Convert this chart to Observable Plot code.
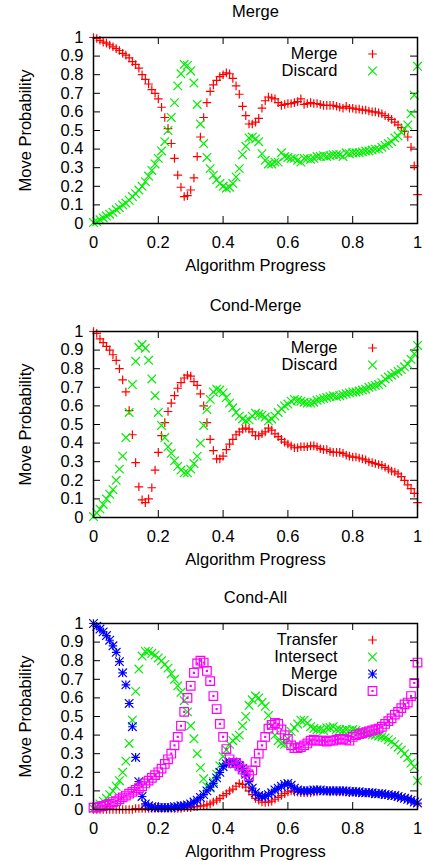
<!DOCTYPE html>
<html><head><meta charset="utf-8">
<script src="https://cdn.jsdelivr.net/npm/d3@7"></script>
<script src="https://cdn.jsdelivr.net/npm/@observablehq/plot@0.6"></script>
<style>
body{margin:0;background:#fff;}
#chart{width:424px;}
#chart svg{display:block;overflow:visible;}
</style></head><body><div id="chart"></div>
<script>
// x grid (algorithm progress)
const progress = [0,0.01,0.02,0.03,0.04,0.05,0.06,0.07,0.08,0.09,
 0.1,0.11,0.12,0.13,0.14,0.15,0.16,0.17,0.18,0.19,
 0.2,0.21,0.22,0.23,0.24,0.25,0.26,0.27,0.28,0.29,
 0.3,0.31,0.32,0.33,0.34,0.35,0.36,0.37,0.38,0.39,
 0.4,0.41,0.42,0.43,0.44,0.45,0.46,0.47,0.48,0.49,
 0.5,0.51,0.52,0.53,0.54,0.55,0.56,0.57,0.58,0.59,
 0.6,0.61,0.62,0.63,0.64,0.65,0.66,0.67,0.68,0.69,
 0.7,0.71,0.72,0.73,0.74,0.75,0.76,0.77,0.78,0.79,
 0.8,0.81,0.82,0.83,0.84,0.85,0.86,0.87,0.88,0.89,
 0.9,0.91,0.92,0.93,0.94,0.95,0.96,0.97,0.98,0.99,
 1];

const xTicks = [0,0.2,0.4,0.6,0.8,1];
const yTicks = [0,0.1,0.2,0.3,0.4,0.5,0.6,0.7,0.8,0.9,1];

// Panel 1: Merge
const p1Merge = [1.0,0.995,0.985,0.975,0.97,0.96,0.95,0.94,0.93,0.915,
 0.905,0.89,0.87,0.855,0.835,0.8,0.775,0.75,0.72,0.7,
 0.67,0.625,0.57,0.51,0.43,0.35,0.26,0.195,0.145,0.15,
 0.18,0.245,0.36,0.465,0.57,0.65,0.71,0.745,0.77,0.79,
 0.80,0.81,0.805,0.78,0.74,0.695,0.63,0.58,0.535,0.535,
 0.545,0.565,0.62,0.66,0.68,0.675,0.67,0.65,0.635,0.64,
 0.645,0.645,0.65,0.655,0.67,0.64,0.645,0.65,0.645,0.645,
 0.64,0.635,0.635,0.635,0.635,0.63,0.625,0.62,0.63,0.62,
 0.62,0.615,0.615,0.61,0.61,0.605,0.6,0.6,0.595,0.59,
 0.58,0.57,0.56,0.545,0.53,0.515,0.495,0.465,0.41,0.31,
 0.155];
const p1Discard = [0.005,0.01,0.02,0.03,0.04,0.05,0.06,0.075,0.085,0.1,
 0.11,0.125,0.145,0.16,0.18,0.2,0.225,0.255,0.285,0.32,
 0.35,0.39,0.44,0.5,0.57,0.65,0.74,0.805,0.855,0.85,
 0.82,0.755,0.64,0.535,0.43,0.355,0.295,0.26,0.235,0.215,
 0.2,0.19,0.195,0.215,0.25,0.295,0.37,0.415,0.46,0.465,
 0.455,0.44,0.375,0.34,0.32,0.32,0.33,0.33,0.38,0.36,
 0.355,0.35,0.35,0.34,0.33,0.35,0.35,0.345,0.35,0.36,
 0.36,0.365,0.36,0.365,0.37,0.37,0.37,0.36,0.38,0.375,
 0.38,0.38,0.38,0.385,0.39,0.39,0.395,0.4,0.4,0.41,
 0.42,0.43,0.44,0.46,0.47,0.49,0.51,0.53,0.59,0.69,
 0.845];

// Panel 2: Cond-Merge
const p2Merge = [1.0,0.99,0.96,0.94,0.92,0.9,0.875,0.845,0.8,0.74,
 0.675,0.575,0.445,0.295,0.165,0.095,0.08,0.1,0.16,0.255,
 0.35,0.44,0.51,0.57,0.615,0.655,0.695,0.725,0.75,0.765,
 0.76,0.73,0.71,0.665,0.6,0.51,0.42,0.36,0.315,0.315,
 0.33,0.365,0.395,0.42,0.445,0.46,0.475,0.48,0.475,0.46,
 0.44,0.44,0.45,0.46,0.48,0.47,0.45,0.435,0.42,0.405,
 0.395,0.385,0.375,0.375,0.38,0.38,0.38,0.385,0.385,0.38,
 0.37,0.365,0.365,0.355,0.35,0.35,0.35,0.345,0.335,0.33,
 0.325,0.325,0.32,0.315,0.31,0.3,0.295,0.29,0.285,0.28,
 0.27,0.26,0.25,0.245,0.235,0.22,0.2,0.175,0.155,0.13,
 0.08];
const p2Discard = [0.005,0.025,0.045,0.07,0.1,0.125,0.15,0.2,0.26,0.33,
 0.43,0.565,0.715,0.84,0.915,0.93,0.91,0.845,0.745,0.655,
 0.565,0.495,0.43,0.38,0.345,0.305,0.275,0.255,0.24,0.24,
 0.26,0.29,0.33,0.4,0.495,0.58,0.635,0.675,0.69,0.685,
 0.67,0.645,0.615,0.59,0.565,0.545,0.53,0.52,0.525,0.545,
 0.56,0.555,0.55,0.54,0.52,0.53,0.545,0.565,0.585,0.6,
 0.61,0.625,0.635,0.63,0.625,0.62,0.615,0.615,0.62,0.63,
 0.635,0.64,0.645,0.65,0.655,0.65,0.655,0.66,0.665,0.67,
 0.675,0.675,0.68,0.685,0.69,0.7,0.705,0.71,0.715,0.725,
 0.745,0.755,0.765,0.775,0.785,0.795,0.81,0.825,0.85,0.88,
 0.925];

// Panel 3: Cond-All
const p3Transfer = [0,0,0,0,0,0,0,0,0,0,
 0,0,0,0.005,0.005,0.005,0.005,0.005,0.005,0.005,
 0.005,0.005,0.005,0.005,0.005,0.005,0.005,0.005,0.01,0.01,
 0.01,0.015,0.015,0.02,0.02,0.025,0.03,0.04,0.05,0.06,
 0.075,0.085,0.1,0.11,0.125,0.14,0.135,0.12,0.1,0.08,
 0.06,0.05,0.04,0.038,0.04,0.045,0.055,0.065,0.075,0.085,
 0.095,0.1,0.095,0.095,0.09,0.09,0.09,0.09,0.095,0.095,
 0.1,0.1,0.1,0.095,0.1,0.095,0.095,0.095,0.095,0.09,
 0.095,0.09,0.09,0.09,0.09,0.09,0.085,0.085,0.085,0.08,
 0.08,0.075,0.075,0.07,0.07,0.065,0.06,0.055,0.05,0.04,
 0.03];
const p3Intersect = [0.005,0.015,0.03,0.045,0.06,0.08,0.1,0.125,0.155,0.2,
 0.26,0.355,0.48,0.635,0.755,0.825,0.85,0.85,0.84,0.83,
 0.815,0.8,0.78,0.76,0.73,0.7,0.665,0.63,0.585,0.525,
 0.45,0.38,0.3,0.225,0.165,0.125,0.115,0.15,0.19,0.235,
 0.285,0.32,0.35,0.37,0.385,0.4,0.45,0.5,0.56,0.59,
 0.61,0.6,0.575,0.555,0.505,0.45,0.4,0.37,0.355,0.35,
 0.38,0.42,0.44,0.46,0.48,0.48,0.465,0.445,0.435,0.43,
 0.43,0.425,0.44,0.44,0.445,0.43,0.43,0.425,0.43,0.425,
 0.43,0.425,0.42,0.415,0.41,0.405,0.4,0.4,0.395,0.39,
 0.385,0.375,0.365,0.35,0.335,0.32,0.3,0.28,0.25,0.23,
 0.155];
const p3Merge = [1.0,0.985,0.97,0.955,0.935,0.91,0.88,0.845,0.795,0.735,
 0.67,0.57,0.445,0.28,0.15,0.07,0.03,0.02,0.015,0.01,
 0.01,0.01,0.01,0.01,0.01,0.015,0.015,0.02,0.02,0.025,
 0.03,0.04,0.05,0.065,0.08,0.1,0.12,0.14,0.17,0.2,
 0.23,0.245,0.255,0.255,0.25,0.235,0.22,0.19,0.15,0.115,
 0.09,0.075,0.07,0.07,0.08,0.09,0.105,0.115,0.125,0.135,
 0.14,0.13,0.115,0.105,0.1,0.1,0.1,0.1,0.105,0.105,
 0.105,0.1,0.1,0.1,0.1,0.1,0.1,0.1,0.1,0.095,
 0.095,0.095,0.095,0.09,0.09,0.09,0.09,0.085,0.085,0.085,
 0.08,0.08,0.075,0.075,0.07,0.065,0.06,0.055,0.05,0.04,
 0.035];
const p3Discard = [0.01,0.01,0.015,0.02,0.025,0.03,0.04,0.045,0.055,0.065,
 0.075,0.085,0.095,0.105,0.115,0.125,0.14,0.155,0.17,0.185,
 0.2,0.22,0.245,0.27,0.3,0.345,0.39,0.45,0.525,0.6,
 0.665,0.735,0.785,0.8,0.79,0.745,0.69,0.61,0.54,0.46,
 0.39,0.325,0.27,0.25,0.25,0.235,0.215,0.2,0.18,0.21,
 0.255,0.3,0.345,0.39,0.435,0.455,0.465,0.46,0.43,0.4,
 0.38,0.345,0.33,0.33,0.335,0.345,0.355,0.37,0.375,0.37,
 0.37,0.37,0.365,0.37,0.37,0.375,0.38,0.38,0.375,0.37,
 0.39,0.4,0.405,0.41,0.415,0.42,0.425,0.43,0.435,0.445,
 0.46,0.475,0.49,0.51,0.525,0.545,0.565,0.575,0.61,0.68,
 0.79];

// gnuplot-like point glyphs (half-length = r)
const glyph = (f) => ({draw(ctx, size) { f(ctx, Math.sqrt(size / Math.PI)); }});
const SYM = {
  plus: glyph((c, r) => { c.moveTo(-r, 0); c.lineTo(r, 0); c.moveTo(0, -r); c.lineTo(0, r); }),
  times: glyph((c, r) => { c.moveTo(-r, -r); c.lineTo(r, r); c.moveTo(-r, r); c.lineTo(r, -r); }),
  star: glyph((c, r) => { c.moveTo(-r, 0); c.lineTo(r, 0); c.moveTo(0, -r); c.lineTo(0, r);
                          c.moveTo(-r, -r); c.lineTo(r, r); c.moveTo(-r, r); c.lineTo(r, -r); }),
  box: glyph((c, r) => { c.rect(-r, -r, 2 * r, 2 * r); c.rect(-0.5, -0.5, 1, 1); })
};
const RED = "#ff0000", GREEN = "#00ee00", BLUE = "#0000ff", MAGENTA = "#ff00ff";

const W = 424, ML = 93, MR = 7, TICK = 7, R = 4.3, SW = 1.2;

function panel({title, series, height, marginTop, marginBottom}) {
  const plotW = W - ML - MR, plotH = height - marginTop - marginBottom;
  const marks = [
    Plot.tickY(yTicks, {y: d => d, insetRight: plotW - TICK, stroke: "#000"}),
    Plot.tickY(yTicks, {y: d => d, insetLeft: plotW - TICK, stroke: "#000"}),
    Plot.tickX(xTicks, {x: d => d, insetTop: plotH - TICK, stroke: "#000"}),
    Plot.tickX(xTicks, {x: d => d, insetBottom: plotH - TICK, stroke: "#000"}),
    Plot.axisY({ticks: yTicks, tickSize: 0, tickPadding: 10, tickFormat: d => String(d), label: null}),
    Plot.axisX({ticks: xTicks, tickSize: 0, tickPadding: 13, tickFormat: d => String(d), label: null}),
    Plot.text([title], {frameAnchor: "top", text: d => d, dy: -25.5, lineAnchor: "middle", textAnchor: "middle"}),
    Plot.text(["Move Probability"], {frameAnchor: "left", text: d => d, rotate: -90, dx: -68, lineAnchor: "middle", textAnchor: "middle"}),
    Plot.text(["Algorithm Progress"], {frameAnchor: "bottom", text: d => d, dy: 42, lineAnchor: "middle", textAnchor: "middle"})
  ];
  series.forEach((s) => {
    marks.push(Plot.dot(s.values, {x: progress, y: s.values, symbol: s.symbol, r: R,
      stroke: s.color, fill: "none", strokeWidth: SW}));
  });
  series.forEach((s, i) => {
    marks.push(Plot.text([s.name], {frameAnchor: "top-right", text: d => d, textAnchor: "end",
      lineAnchor: "middle", dx: -80, dy: 16.5 + 17 * i}));
    marks.push(Plot.dot([s.name], {frameAnchor: "top-right", symbol: s.symbol, r: R,
      stroke: s.color, fill: "none", strokeWidth: SW, dx: -45, dy: 16.5 + 17 * i}));
  });
  marks.push(Plot.frame({stroke: "#000", strokeWidth: 1.5}));
  return Plot.plot({
    width: W, height, marginTop, marginBottom, marginLeft: ML, marginRight: MR,
    x: {domain: [0, 1]}, y: {domain: [0, 1]},
    style: {fontFamily: "'Liberation Sans', Arial, sans-serif", fontSize: "16.5px", color: "#000", background: "#fff", overflow: "visible"},
    marks
  });
}

const chart = document.getElementById("chart");
chart.append(panel({
  title: "Merge", height: 293, marginTop: 37, marginBottom: 70,
  series: [
    {name: "Merge", values: p1Merge, color: RED, symbol: SYM.plus},
    {name: "Discard", values: p1Discard, color: GREEN, symbol: SYM.times}
  ]
}));
chart.append(panel({
  title: "Cond-Merge", height: 293, marginTop: 38, marginBottom: 69,
  series: [
    {name: "Merge", values: p2Merge, color: RED, symbol: SYM.plus},
    {name: "Discard", values: p2Discard, color: GREEN, symbol: SYM.times}
  ]
}));
chart.append(panel({
  title: "Cond-All", height: 275, marginTop: 37, marginBottom: 52,
  series: [
    {name: "Transfer", values: p3Transfer, color: RED, symbol: SYM.plus},
    {name: "Intersect", values: p3Intersect, color: GREEN, symbol: SYM.times},
    {name: "Merge", values: p3Merge, color: BLUE, symbol: SYM.star},
    {name: "Discard", values: p3Discard, color: MAGENTA, symbol: SYM.box}
  ]
}));
</script></body></html>
